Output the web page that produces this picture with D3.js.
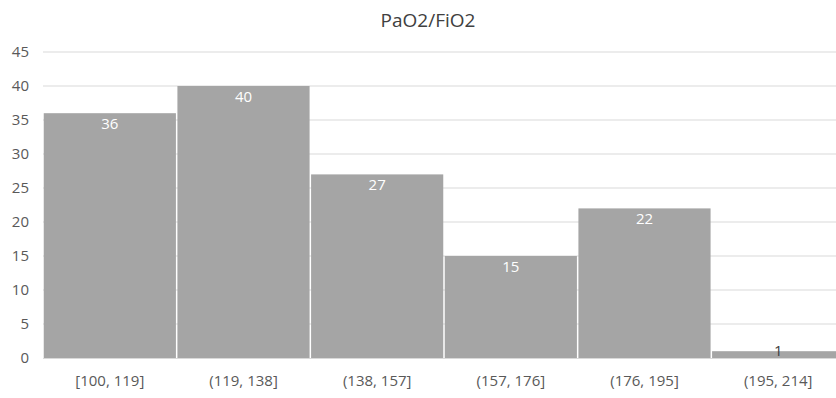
<!DOCTYPE html>
<html>
<head>
<meta charset="utf-8">
<script src="https://cdn.jsdelivr.net/npm/d3@7"></script>
<style>
  html, body { margin: 0; padding: 0; background: #fff; }
  svg { display: block; font-family: "Open Sans", "Noto Sans", sans-serif; }
</style>
</head>
<body>
<svg id="chart" width="836" height="398"></svg>
<script>
// Histogram of PaO2/FiO2 ratio
const bins = ["[100, 119]", "(119, 138]", "(138, 157]", "(157, 176]", "(176, 195]", "(195, 214]"];
const counts = [36, 40, 27, 15, 22, 1];
const yTicks = [0, 5, 10, 15, 20, 25, 30, 35, 40, 45];
const title = "PaO2/FiO2";

const svg = d3.select("#chart");
const plot = { left: 43, right: 845, top: 52, bottom: 358 };
const font = "'Open Sans', 'Noto Sans', sans-serif";
const labelSize = 15;

const x = d3.scaleBand().domain(bins).range([plot.left, plot.right]).paddingInner(0).paddingOuter(0);
const y = d3.scaleLinear().domain([0, 45]).range([plot.bottom, plot.top]);

// Title
svg.append("text")
  .attr("x", 428).attr("y", 27)
  .attr("text-anchor", "middle")
  .attr("font-size", 19)
  .attr("fill", "#404040")
  .text(title);

// Horizontal gridlines
svg.append("g").selectAll("line").data(yTicks.filter(d => d > 0)).join("line")
  .attr("x1", plot.left).attr("x2", 836)
  .attr("y1", d => y(d)).attr("y2", d => y(d))
  .attr("stroke", "#d9d9d9").attr("stroke-width", 1.2);

// Y axis labels
const yAxis = d3.axisLeft(y).tickValues(yTicks).tickSize(0).tickPadding(14);
const gy = svg.append("g").attr("transform", `translate(${plot.left},0)`).call(yAxis);
gy.select(".domain").remove();
gy.selectAll("text").attr("font-size", labelSize).attr("fill", "#595959").attr("font-family", font);

// Bars
svg.append("g").selectAll("rect").data(counts).join("rect")
  .attr("x", (d, i) => x(bins[i]) + 0.75)
  .attr("width", x.bandwidth() - 1.5)
  .attr("y", d => y(d))
  .attr("height", d => y(0) - y(d))
  .attr("fill", "#a5a5a5");

// Baseline
svg.append("line")
  .attr("x1", plot.left).attr("x2", 836)
  .attr("y1", y(0) + 0.5).attr("y2", y(0) + 0.5)
  .attr("stroke", "#d9d9d9").attr("stroke-width", 1.2);

// X axis labels
const xAxis = d3.axisBottom(x).tickSize(0).tickPadding(17);
const gx = svg.append("g").attr("transform", `translate(0,${plot.bottom})`).call(xAxis);
gx.select(".domain").remove();
gx.selectAll("text").attr("font-size", labelSize).attr("fill", "#595959").attr("font-family", font);

// Data labels
svg.append("g").selectAll("text").data(counts).join("text")
  .attr("x", (d, i) => x(bins[i]) + x.bandwidth() / 2)
  .attr("y", d => d > 2 ? y(d) + 15.5 : y(d) + 4.5)
  .attr("text-anchor", "middle")
  .attr("font-size", labelSize)
  .attr("fill", d => d > 2 ? "#ffffff" : "#404040")
  .text(d => d);
</script>
</body>
</html>
